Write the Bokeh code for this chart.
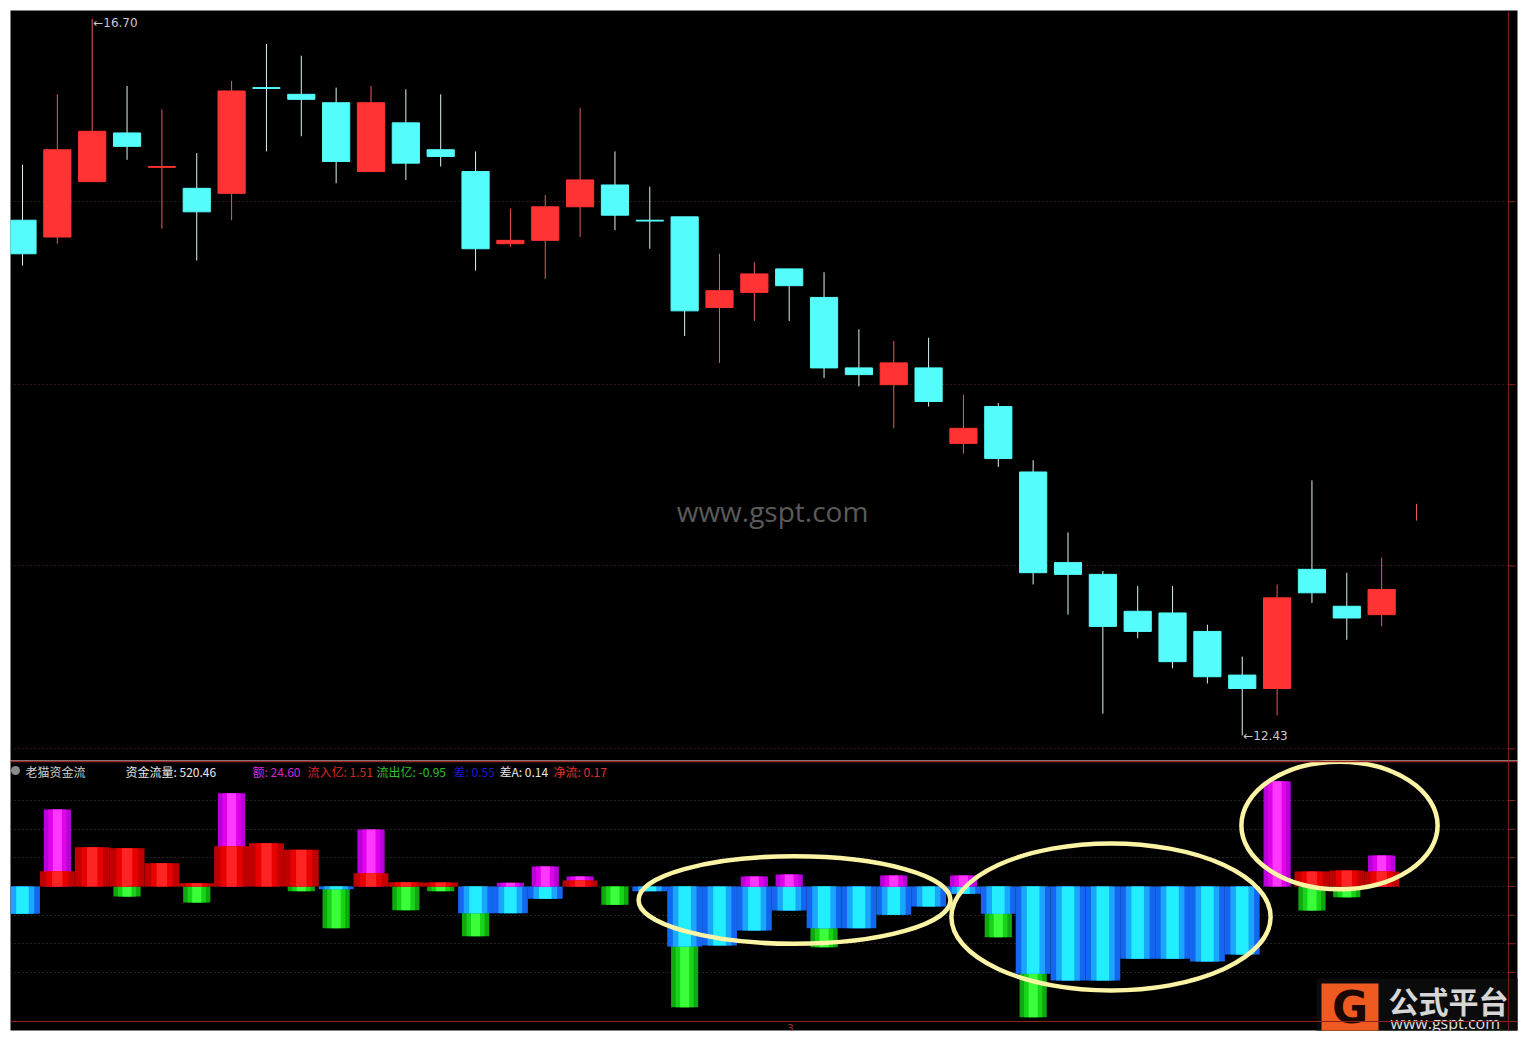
import numpy as np
from bokeh.plotting import figure
from bokeh.layouts import column
from bokeh.models import Span, FixedTicker, Range1d
from bokeh.core.properties import value
from bokeh.embed import file_html
from bokeh.resources import INLINE

# ---------------- data ----------------
opens  = [15.50, 15.40, 15.73, 16.02, 15.815, 15.69, 15.66, 16.29, 16.25, 16.20,
          15.79, 16.08, 15.92, 15.79, 15.36, 15.38, 15.58, 15.71, 15.50, 15.52,
          14.98, 15.07, 15.21, 15.04, 14.62, 14.52, 14.62, 14.17, 14.39, 14.00,
          13.46, 13.39, 13.17, 13.16, 13.05, 12.79, 12.71, 13.42, 13.20, 13.15]
closes = [15.30, 15.92, 16.03, 15.94, 15.82, 15.55, 16.27, 16.285, 16.22, 15.85,
          16.20, 15.84, 15.88, 15.33, 15.38, 15.58, 15.74, 15.53, 15.495, 14.96,
          15.08, 15.18, 15.11, 14.62, 14.58, 14.65, 14.42, 14.26, 14.08, 13.40,
          13.39, 13.08, 13.05, 12.87, 12.78, 12.71, 13.25, 13.28, 13.13, 13.30]
highs  = [15.83, 16.25, 16.70, 16.30, 16.16, 15.90, 16.33, 16.55, 16.48, 16.29,
          16.30, 16.28, 16.25, 15.91, 15.57, 15.65, 16.17, 15.91, 15.70, 15.52,
          15.30, 15.25, 15.21, 15.19, 14.85, 14.78, 14.80, 14.46, 14.41, 14.07,
          13.64, 13.41, 13.32, 13.32, 13.09, 12.90, 13.33, 13.95, 13.40, 13.49]
lows   = [15.23, 15.36, 15.73, 15.86, 15.45, 15.26, 15.50, 15.91, 16.00, 15.72,
          15.79, 15.74, 15.82, 15.20, 15.34, 15.15, 15.40, 15.44, 15.33, 14.81,
          14.65, 14.90, 14.90, 14.56, 14.51, 14.26, 14.39, 14.11, 14.03, 13.33,
          13.15, 12.56, 13.01, 12.83, 12.74, 12.43, 12.55, 13.22, 13.00, 13.08]
# partial bar after the last candle (only a thin red tick is visible)
tail_high = [13.81]
tail_low = [13.71]

# money-flow indicator (units of 0.1)
amount  = [0, 7.7, 0, 0, 0, 0, 9.33, 0, 0, 0, 5.7, 0, 0, 0, 0.37, 2.0, 1.0, 0, 0, 0,
           0, 1.0, 1.2, 0, 0, 1.1, 0, 1.1, 0, 0, 0, 0, 0, 0, 0, 0, 10.53, 0, 0, 3.1]
inflow  = [0, 1.53, 3.93, 3.83, 2.33, 0.33, 4.03, 4.33, 3.67, 0, 1.33, 0.43, 0.4, 0, 0,
           0, 0.6, 0, 0, 0, 0, 0, 0, 0, 0, 0, 0, 0, 0, 0, 0, 0, 0, 0, 0, 0, 0, 1.5, 1.6, 1.5]
outflow = [0, 0, 0, -1.0, 0, -1.6, 0, 0, -0.47, -4.17, 0, -2.37, -0.47, -4.97, 0, 0, 0,
           -1.83, 0, -12.07, 0, 0, 0, -6.07, 0, 0, 0, 0, -5.07, -13.07, 0, 0, 0, 0, 0, 0,
           0, -2.4, -1.07, 0]
diff    = [-2.73, 0, 0, 0, 0, 0, 0, 0, 0, -0.27, 0, 0, 0, -2.67, -2.67, -1.23, 0, 0, -0.47,
           -6.0, -5.9, -4.4, -2.4, -4.17, -4.17, -2.83, -2.0, -0.73, -2.73, -8.73, -9.4,
           -9.4, -7.23, -7.23, -7.5, -6.8, 0, 0, 0, 0]

price_grid = [15.61, 14.52, 13.44, 12.35]
flow_grid = [8.6, 5.73, 2.87, 0, -2.87, -5.73, -8.6]

header_texts = ["老猫资金流", "资金流量: 520.46", "额: 24.60", "流入亿: 1.51",
                "流出亿: -0.95", "差: 0.55", "差A: 0.14", "净流: 0.17"]
header_colors = ["#d0d0d0", "#e8e8e8", "#d22ad2", "#d82828", "#2cc42c",
                 "#1c1ccc", "#e8e8e8", "#e83030"]
header_px = [25, 125, 252, 307, 376, 453, 499, 553]

# ---------------- layout helpers ----------------
STEP = 34.85          # px per candle
X0PX = 22             # px of first candle
FRAME_L = 10
FRAME_W = 1507


def xd(px):
    return (px - X0PX) / STEP


def yl(px):           # lower panel pixel -> value
    return (886 - px) / 10.0


xr = Range1d(xd(FRAME_L), xd(FRAME_L + FRAME_W))
CJK = value("Noto Sans CJK SC")

o = np.array(opens); c = np.array(closes); h = np.array(highs); l = np.array(lows)
n = len(o)
idx = np.arange(n)
up = c >= o
body_col = np.where(up, "#ff3333", "#55fcfc")
wick_col = np.where(up, "#e85a5a", "#d8f4f4")

# ---------------- price panel ----------------
p = figure(width=10 + FRAME_W + 10, height=10 + 750, x_range=xr,
           y_range=Range1d(12.281, 16.7495), output_backend="svg",
           toolbar_location=None, min_border_left=10, min_border_right=10,
           min_border_top=10, min_border_bottom=0)
p.background_fill_color = "black"
p.border_fill_color = "white"
p.outline_line_color = None
p.xaxis.visible = False
p.yaxis.visible = False
p.xgrid.visible = False
p.ygrid.ticker = FixedTicker(ticks=price_grid)
p.ygrid.grid_line_color = "#6e2a2a"
p.ygrid.grid_line_dash = "1 3"

p.segment(x0=idx, y0=l, x1=idx, y1=h, line_color=wick_col, line_width=1)
p.vbar(x=idx, width=0.78, top=np.maximum(o, c), bottom=np.minimum(o, c),
       fill_color=body_col, line_color=body_col, line_width=1)
p.segment(x0=[n], y0=tail_low, x1=[n], y1=tail_high, line_color="#e85a5a", line_width=1)

imax = int(np.argmax(h)); imin = int(np.argmin(l))
p.text(x=[imax], y=[h[imax]], text=["←" + f"{h[imax]:.2f}"], text_color="#c8c8c8",
       text_font=value("DejaVu Sans"), text_font_size="12px", text_baseline="middle",
       x_offset=1, y_offset=4)
p.text(x=[imin], y=[l[imin]], text=["←" + f"{l[imin]:.2f}"], text_color="#c8c8c8",
       text_font=value("DejaVu Sans"), text_font_size="12px", text_baseline="middle",
       x_offset=1, y_offset=1)

# watermark
p.text(x=[xd(772)], y=[13.77], text=["www.gspt.com"], text_color="#5a5a5a",
       text_font=value("Open Sans"), text_font_size="28px", text_align="center",
       text_baseline="middle")

# right axis line & ticks
p.add_layout(Span(location=xd(1508), dimension="height", line_color="#7a1c1c", line_width=1))
p.segment(x0=[xd(1508)] * len(price_grid), y0=price_grid, x1=[xd(1514)] * len(price_grid),
          y1=price_grid, line_color="#8a2222", line_width=1)

# ---------------- indicator panel ----------------
q = figure(width=10 + FRAME_W + 10, height=270 + 8, x_range=xr,
           y_range=Range1d(yl(1030), yl(760)), output_backend="svg",
           toolbar_location=None, min_border_left=10, min_border_right=10,
           min_border_top=0, min_border_bottom=8)
q.background_fill_color = "black"
q.border_fill_color = "white"
q.outline_line_color = None
q.xaxis.visible = False
q.yaxis.visible = False
q.xgrid.visible = False
q.ygrid.ticker = FixedTicker(ticks=flow_grid)
q.ygrid.grid_line_color = "#4e4444"
q.ygrid.grid_line_dash = "1 3"

zeros = np.zeros(n)
# green (outflow)
for w, col in [(0.78, "#0fa80f"), (0.52, "#18d418"), (0.26, "#3cff3c")]:
    q.vbar(x=idx, width=w, top=zeros, bottom=outflow, fill_color=col, line_color=None)
# blue (diff)
for w, col in [(1.0, "#1466f0"), (0.68, "#1aa6ff"), (0.36, "#22eeff")]:
    q.vbar(x=idx, width=w, top=zeros, bottom=diff, fill_color=col, line_color=None)
# magenta (amount)
for w, col in [(0.78, "#b800d8"), (0.52, "#e000ec"), (0.26, "#ff38ff")]:
    q.vbar(x=idx, width=w, top=amount, bottom=zeros, fill_color=col, line_color=None)
# red (inflow)
for w, col in [(1.0, "#c00000"), (0.62, "#e80000"), (0.3, "#ff2424")]:
    q.vbar(x=idx, width=w, top=inflow, bottom=zeros, fill_color=col, line_color=None)

# frame lines
q.add_layout(Span(location=yl(761), dimension="width", line_color="#a02424", line_width=1.5))
q.add_layout(Span(location=yl(1021), dimension="width", line_color="#8e2222", line_width=1))
q.add_layout(Span(location=xd(1508), dimension="height", line_color="#7a1c1c", line_width=1))
q.segment(x0=[xd(1508)] * len(flow_grid), y0=flow_grid, x1=[xd(1514)] * len(flow_grid),
          y1=flow_grid, line_color="#8a2222", line_width=1)
q.text(x=[xd(790)], y=[yl(1027)], text=["3"], text_color="#a03030",
       text_font=value("DejaVu Sans"), text_font_size="10px", text_align="center",
       text_baseline="middle")

# header
q.scatter(x=[xd(15)], y=[yl(770)], size=9, marker="circle", fill_color="#8a8a8a",
          line_color=None)
q.text(x=[xd(v) for v in header_px], y=[yl(771)] * len(header_px), text=header_texts,
       text_color=header_colors, text_font=CJK, text_font_size="12px",
       text_baseline="middle")

# highlight ellipses
q.ellipse(x=[xd(794), xd(1110.5), xd(1339)], y=[yl(899.5), yl(916.5), yl(825)],
          width=[8.95, 9.16, 5.63], height=[8.75, 14.7, 12.75],
          fill_color=None, line_color="#fbf4a4", line_width=4.5)

# logo
q.quad(left=[xd(1316)], right=[xd(1520)], top=[yl(978)], bottom=[yl(1032)],
       fill_color="#0b0b0b", line_color=None)
q.quad(left=[xd(1321)], right=[xd(1378)], top=[yl(983)], bottom=[yl(1032)],
       fill_color="#ee5a20", line_color=None)
q.text(x=[xd(1349.5)], y=[yl(1007)], text=["G"], text_color="#1a0800",
       text_font=value("DejaVu Sans"), text_font_style="bold", text_font_size="44px",
       text_align="center", text_baseline="middle")
q.text(x=[xd(1388)], y=[yl(999)], text=["公式平台"], text_color="#d6d6d6",
       text_font=CJK, text_font_style="bold", text_font_size="30px",
       text_baseline="middle")
q.text(x=[xd(1390)], y=[yl(1022)], text=["www.gspt.com"], text_color="#e0e0e0",
       text_font=value("Open Sans"), text_font_size="16px", text_baseline="middle")

layout = column(p, q, spacing=0)
open("out.html", "w").write(file_html(layout, INLINE))
